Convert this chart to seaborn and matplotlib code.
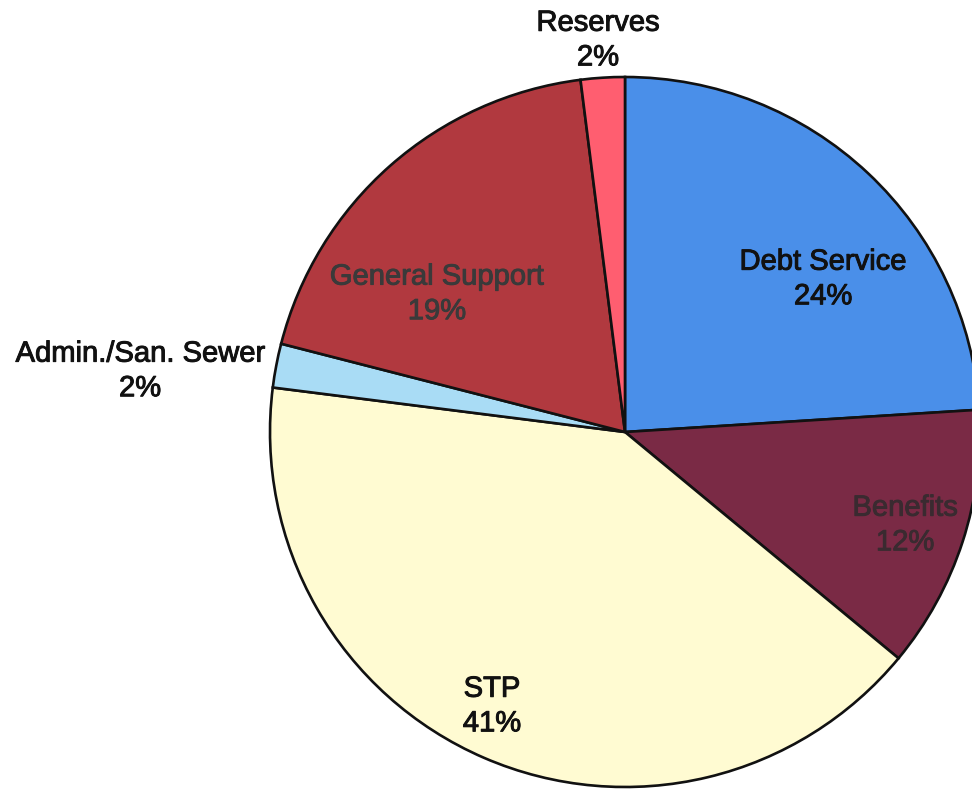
import matplotlib
matplotlib.use("Agg")
import matplotlib.pyplot as plt
import matplotlib.patheffects as pe
import seaborn as sns

# Budget shares, clockwise from 12 o'clock
categories = ["Debt Service", "Benefits", "STP", "Admin./San. Sewer",
              "General Support", "Reserves"]
shares = [24, 12, 41, 2, 19, 2]

colors = ["#4A8FE9", "#7A2A45", "#FFFBD2", "#A9DCF5", "#B1393F", "#FF5E70"]
text_colors = ["#111111", "#3A2A30", "#111111", "#111111", "#3A3A3A", "#111111"]

# label anchor points in pie units (radius = 1)
label_xy = [(0.558, 0.431), (0.789, -0.262), (-0.375, -0.772),
            (-1.366, 0.172), (-0.530, 0.389), (-0.076, 1.104)]

sns.set_theme(style="white")
plt.rcParams["font.family"] = ["Liberation Sans", "DejaVu Sans"]

fig = plt.figure(figsize=(9.72, 7.93), dpi=100)
ax = fig.add_axes([0, 0, 1, 1])
ax.pie(shares, colors=colors, startangle=90, counterclock=False,
       radius=1.0, center=(0, 0),
       wedgeprops=dict(edgecolor="#111111", linewidth=1.9))

for name, val, (x, y), tc in zip(categories, shares, label_xy, text_colors):
    ax.text(x, y, f"{name}\n{val}%", ha="center", va="center",
            fontsize=21, color=tc, linespacing=1.3,
            path_effects=[pe.withStroke(linewidth=0.7, foreground=tc)])

ax.set_xlim(-625 / 355, (972 - 625) / 355)
ax.set_ylim(-361 / 355, 432 / 355)
ax.set_aspect("equal")
ax.axis("off")

fig.savefig("out.png", dpi=100, facecolor="white")
